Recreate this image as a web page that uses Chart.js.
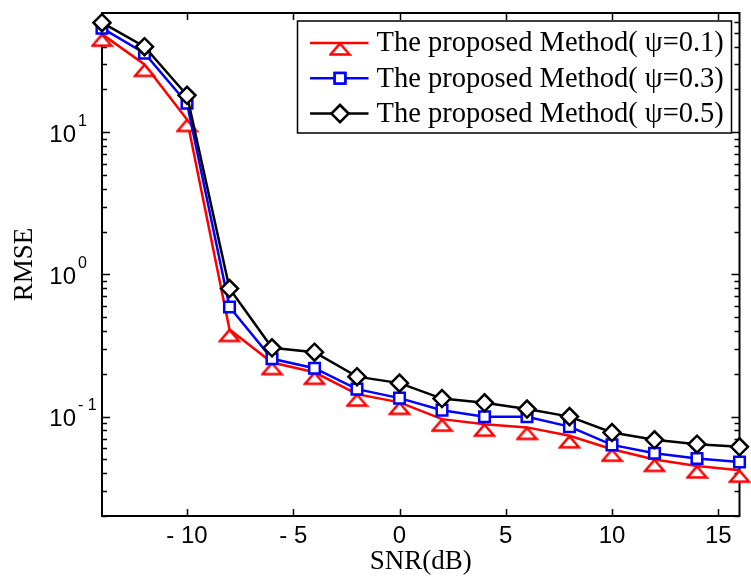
<!DOCTYPE html>
<html><head><meta charset="utf-8">
<script src="https://cdn.jsdelivr.net/npm/chart.js@4.4.1/dist/chart.umd.min.js"></script>
<style>html,body{margin:0;padding:0;background:#fff;}#wrap{width:751px;height:576px;position:relative;}</style>
</head><body><div id="wrap"><canvas id="c"></canvas></div>
<script>
const snr = [-14,-12,-10,-8,-6,-4,-2,0,2,4,6,8,10,12,14,16];
const rmsePsi01 = [49,30,12.3,0.41,0.24,0.205,0.144,0.126,0.096,0.0885,0.084,0.0733,0.059,0.050,0.045,0.042];
const rmsePsi03 = [54,36,16,0.59,0.255,0.219,0.156,0.135,0.111,0.0998,0.0998,0.085,0.0633,0.0552,0.0507,0.048];
const rmsePsi05 = [59,40,18.2,0.796,0.305,0.284,0.191,0.172,0.134,0.125,0.113,0.100,0.0773,0.0687,0.064,0.0613];
const seriesLabels = ['The proposed Method( \u03C8=0.1)','The proposed Method( \u03C8=0.3)','The proposed Method( \u03C8=0.5)'];
const xTickValues = [-10,-5,0,5,10,15];
const yMajorTicks = [0.1,1,10];
const yMajorExponents = ['-1','0','1'];
const yMinorTicks = [0.02,0.03,0.04,0.05,0.06,0.07,0.08,0.09,0.2,0.3,0.4,0.5,0.6,0.7,0.8,0.9,2,3,4,5,6,7,8,9,20,30,40,50,60];
const xLimits = [-14,16];
const yLimits = [0.02,69];

function triangleMarker(color){
  const cv = document.createElement('canvas');
  cv.width = 23; cv.height = 28;
  const g = cv.getContext('2d');
  g.beginPath();
  g.moveTo(11.5, 14.5); g.lineTo(21, 25.5); g.lineTo(2, 25.5); g.closePath();
  g.fillStyle = '#fff'; g.fill();
  g.lineWidth = 2.5; g.strokeStyle = color; g.lineJoin = 'miter'; g.stroke();
  return cv;
}
const triRed = triangleMarker('#ff0000');

function pts(arr){ return snr.map((x,i)=>({x:x, y:arr[i]})); }

const axesPlugin = {
  id:'matlabAxes',
  beforeDatasetsDraw(chart){
    const ctx = chart.ctx, a = chart.chartArea;
    const xs = chart.scales.x, ys = chart.scales.y;
    ctx.save();
    ctx.strokeStyle = '#000'; ctx.lineWidth = 2;
    ctx.strokeRect(a.left, a.top, a.right - a.left, a.bottom - a.top);
    ctx.lineWidth = 1.5;
    ctx.beginPath();
    xTickValues.forEach(v=>{
      const px = Math.round(xs.getPixelForValue(v)) + 0.5;
      ctx.moveTo(px, a.bottom); ctx.lineTo(px, a.bottom - 7);
      ctx.moveTo(px, a.top); ctx.lineTo(px, a.top + 7);
    });
    yMajorTicks.forEach(v=>{
      const py = Math.round(ys.getPixelForValue(v)) + 0.5;
      ctx.moveTo(a.left, py); ctx.lineTo(a.left + 8, py);
      ctx.moveTo(a.right, py); ctx.lineTo(a.right - 8, py);
    });
    yMinorTicks.forEach(v=>{
      const py = Math.round(ys.getPixelForValue(v)) + 0.5;
      ctx.moveTo(a.left, py); ctx.lineTo(a.left + 5, py);
      ctx.moveTo(a.right, py); ctx.lineTo(a.right - 5, py);
    });
    ctx.stroke();
    ctx.fillStyle = '#000';
    yMajorTicks.forEach((v,i)=>{
      const py = ys.getPixelForValue(v);
      ctx.font = '24px "Liberation Sans", Arial, sans-serif';
      ctx.textAlign = 'right'; ctx.textBaseline = 'middle';
      ctx.fillText('10', a.left - 26, py + 3);
      ctx.font = '16px "Liberation Sans", Arial, sans-serif';
      ctx.textAlign = 'left';
      const e = yMajorExponents[i];
      ctx.fillText(e.startsWith('-') ? '- ' + e.slice(1) : e, a.left - 24, py - 11);
    });
    ctx.restore();
  },
  afterDraw(chart){
    const ctx = chart.ctx, a = chart.chartArea;
    const right = a.right - 8, top = a.top + 8, w = 434, h = 112;
    const left = right - w;
    ctx.save();
    ctx.fillStyle = '#fff'; ctx.fillRect(left, top, w, h);
    ctx.strokeStyle = '#000'; ctx.lineWidth = 1.5; ctx.strokeRect(left, top, w, h);
    chart.data.datasets.forEach((ds,i)=>{
      const y = top + 22 + i * 35.3;
      ctx.strokeStyle = ds.borderColor; ctx.lineWidth = 2.5;
      ctx.beginPath(); ctx.moveTo(left + 12.5, y); ctx.lineTo(left + 71, y); ctx.stroke();
      const mx = left + 42.5;
      if (ds.pointStyle instanceof HTMLCanvasElement){
        ctx.drawImage(ds.pointStyle, mx - ds.pointStyle.width/2, y - ds.pointStyle.height/2);
      } else {
        Chart.helpers.drawPoint(ctx, {pointStyle: ds.pointStyle, radius: ds.pointRadius, borderWidth: 2.5, rotation: 0}, mx, y);
        ctx.fillStyle = '#fff'; ctx.fill(); ctx.stroke();
      }
      ctx.fillStyle = '#000';
      ctx.font = '28.5px "Liberation Serif", "Times New Roman", serif';
      ctx.textAlign = 'left'; ctx.textBaseline = 'middle';
      ctx.fillText(ds.label, left + 79, y + 1);
    });
    ctx.restore();
  }
};

new Chart(document.getElementById('c'), {
  type:'line',
  data:{ datasets:[
    {label:seriesLabels[0], data:pts(rmsePsi01), borderColor:'#ff0000', backgroundColor:'#fff', borderWidth:2.5, pointStyle:triRed, pointRadius:9, pointBorderWidth:2.5, clip:false, order:3},
    {label:seriesLabels[1], data:pts(rmsePsi03), borderColor:'#0000ff', backgroundColor:'#fff', borderWidth:2.5, pointStyle:'rect', pointRadius:7.5, pointBorderWidth:2.5, clip:false, order:2},
    {label:seriesLabels[2], data:pts(rmsePsi05), borderColor:'#000000', backgroundColor:'#fff', borderWidth:2.5, pointStyle:'rectRot', pointRadius:8.5, pointBorderWidth:2.5, clip:false, order:1}
  ]},
  options:{
    responsive:true, maintainAspectRatio:false, animation:false, events:[],
    layout:{padding:{top:13,right:10,left:0,bottom:0}},
    plugins:{legend:{display:false}, tooltip:{enabled:false}},
    elements:{line:{tension:0}},
    scales:{
      x:{type:'linear', min:xLimits[0], max:xLimits[1],
        afterBuildTicks(s){ s.ticks = xTickValues.map(v=>({value:v})); },
        afterFit(s){ s.height = 60; },
        grid:{display:false}, border:{display:false},
        ticks:{autoSkip:false, maxRotation:0, padding:-2, color:'#000',
          font:{family:'"Liberation Sans", Arial, sans-serif', size:24},
          callback:(v)=> v < 0 ? '- ' + Math.abs(v) : String(v)},
        title:{display:true, text:'SNR(dB)', color:'#000', padding:{top:0,bottom:1},
          font:{family:'"Liberation Serif", "Times New Roman", serif', size:27, lineHeight:1}}
      },
      y:{type:'logarithmic', min:yLimits[0], max:yLimits[1],
        afterBuildTicks(s){ s.ticks = yMajorTicks.concat(yMinorTicks).sort((a,b)=>a-b).map(v=>({value:v})); },
        afterFit(s){ s.width = 102; },
        grid:{display:false}, border:{display:false},
        ticks:{display:false},
        title:{display:true, text:'RMSE', color:'#000', padding:{top:9,bottom:0},
          font:{family:'"Liberation Serif", "Times New Roman", serif', size:27, lineHeight:1.2}}
      }
    }
  },
  plugins:[axesPlugin]
});
</script></body></html>
